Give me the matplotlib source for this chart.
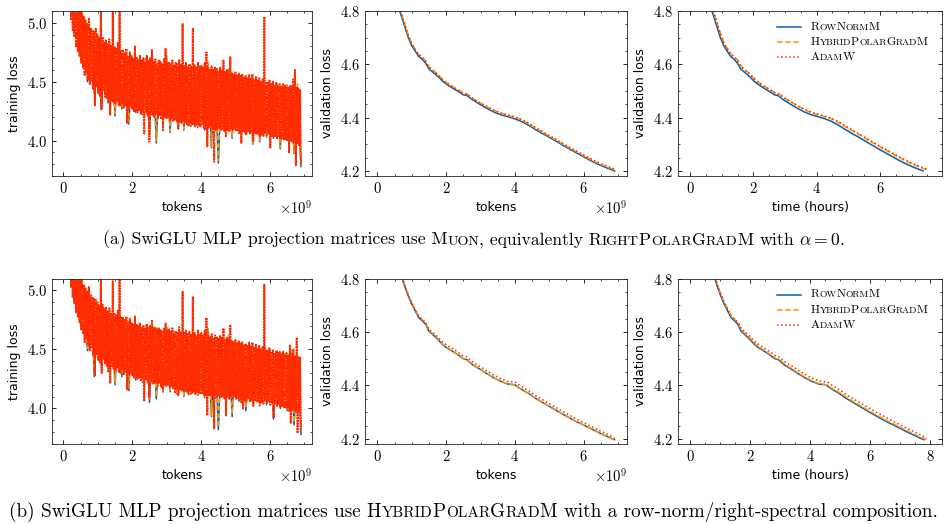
import re
import numpy as np
import matplotlib
matplotlib.use("Agg")
import matplotlib.pyplot as plt
from matplotlib.lines import Line2D
from matplotlib.offsetbox import TextArea, HPacker, VPacker, DrawingArea, AnchoredOffsetbox

# ---- data ----
names = ["R[ow]N[orm]M", "H[ybrid]P[olar]G[rad]M", "A[dam]W"]
colors = ["#0C5DA5", "#FF9500", "#FF2C00"]
styles = ["-", "--", ":"]

tokens_end = 6.9e9

# training loss (row a), alternating high / low readings of the noisy band
train_a_row = [7.6, 6.1, 5.7, 4.92, 5.25, 4.70, 5.0, 4.50, 4.93, 4.40,
               4.85, 4.26, 4.82, 4.32, 4.80, 4.21, 4.76, 4.27, 4.73, 4.14,
               4.70, 4.24, 4.68, 4.22, 4.70, 4.05, 4.68, 3.98, 4.66, 4.18,
               4.70, 4.07, 4.63, 4.16, 4.64, 4.09, 4.62, 4.12, 4.62, 4.11,
               4.62, 4.09, 4.66, 3.94, 4.60, 3.81, 4.58, 4.08, 4.60, 4.02,
               4.56, 4.06, 4.54, 4.05, 4.56, 3.97, 4.53, 3.99, 4.50, 4.03,
               4.49, 4.02, 4.48, 3.93, 4.46, 4.00, 4.45, 3.89, 4.44, 3.78]
train_a_hyb = [7.4, 5.9, 5.6, 4.94, 5.2, 4.72, 5.02, 4.52, 4.95, 4.42,
               4.87, 4.30, 4.84, 4.34, 4.80, 4.23, 4.77, 4.29, 4.75, 4.16,
               4.70, 4.26, 4.69, 4.23, 4.71, 4.06, 4.70, 4.00, 4.67, 4.19,
               4.72, 4.08, 4.64, 4.17, 4.65, 4.10, 4.63, 4.13, 4.64, 4.12,
               4.62, 4.10, 4.68, 3.95, 4.61, 3.83, 4.59, 4.09, 4.62, 4.03,
               4.57, 4.07, 4.55, 4.06, 4.57, 3.98, 4.54, 4.00, 4.51, 4.04,
               4.50, 4.03, 4.49, 3.94, 4.47, 4.01, 4.46, 3.90, 4.48, 3.80]
train_a_adam = [9.5, 7.0, 7.2, 6.3, 6.4, 5.8, 5.9, 5.4, 5.5, 5.02, 5.35, 4.93, 5.3, 4.88, 5.25, 4.80, 5.22, 4.76, 5.18, 4.72,
                5.12, 4.66, 5.08, 4.62, 5.05, 4.55, 5.02, 4.58, 4.99, 4.52, 5.04, 4.48, 4.96, 4.50, 4.94, 4.44, 4.92, 4.30, 4.95, 4.45,
                4.90, 4.40, 4.87, 4.38, 5.12, 4.27, 4.88, 4.42, 4.84, 4.37, 4.85, 4.36, 4.82, 4.33, 4.86, 4.22, 4.80, 4.34, 5.09, 4.32,
                4.80, 4.31, 4.78, 4.34, 4.83, 4.30, 5.12, 4.29, 4.76, 4.32, 4.77, 4.28, 4.74, 4.30, 4.78, 4.15, 4.72, 4.27, 4.75, 4.29,
                4.72, 4.27, 4.70, 4.25, 4.80, 4.26, 4.71, 4.24, 4.69, 4.25, 4.72, 4.22, 4.68, 4.24, 4.70, 4.06, 4.67, 4.23, 4.72, 4.21,
                4.68, 3.99, 4.70, 4.22, 4.77, 4.21, 4.67, 4.20, 4.69, 4.22, 4.66, 4.19, 4.68, 4.21, 4.67, 4.18, 4.65, 4.08, 4.69, 4.20,
                4.78, 4.19, 4.66, 4.20, 4.67, 4.17, 4.65, 4.19, 4.68, 4.16, 4.64, 4.18, 4.66, 4.17, 4.65, 4.10, 4.69, 4.16, 4.64, 4.15,
                4.99, 4.16, 4.64, 4.15, 4.66, 4.14, 4.63, 4.12, 4.65, 4.15, 4.63, 4.13, 4.95, 4.14, 4.64, 4.12, 4.62, 4.14, 4.66, 4.13,
                4.63, 4.12, 4.64, 4.13, 4.62, 4.11, 4.66, 4.10, 4.75, 3.95, 4.62, 4.11, 4.61, 4.12, 4.63, 4.10, 4.60, 3.82, 4.62, 4.09,
                4.61, 4.10, 4.59, 4.11, 4.62, 4.09, 4.60, 4.10, 4.68, 4.08, 4.58, 4.03, 4.60, 4.09, 4.59, 4.08, 4.71, 4.10, 4.57, 4.09,
                4.56, 4.10, 4.58, 4.08, 4.55, 4.09, 4.57, 4.07, 4.55, 3.98, 4.56, 4.08, 4.54, 4.07, 4.55, 4.06, 4.53, 4.08, 4.56, 4.06,
                4.53, 4.07, 4.56, 4.00, 4.52, 4.06, 4.54, 4.05, 4.51, 4.06, 4.53, 4.04, 4.50, 4.05, 4.52, 4.04, 5.05, 4.06, 4.50, 4.05,
                4.49, 4.06, 4.51, 3.94, 4.48, 4.04, 4.50, 4.03, 4.47, 4.04, 4.49, 4.02, 4.47, 4.03, 4.48, 4.01, 4.46, 4.02, 4.48, 4.01,
                4.46, 4.01, 4.47, 4.00, 4.45, 3.90, 4.47, 4.00, 4.46, 3.99, 4.52, 3.98, 4.60, 3.79, 4.45, 3.98, 4.44, 3.96, 4.43, 3.80]

# training loss (row b)
train_b_row = [7.6, 6.1, 5.7, 4.93, 5.25, 4.71, 5.0, 4.49, 4.94, 4.27,
               4.86, 4.36, 4.83, 4.31, 4.80, 4.20, 4.76, 4.27, 4.73, 4.15,
               4.70, 4.24, 4.69, 4.22, 4.70, 4.05, 4.68, 4.08, 4.66, 4.18,
               4.68, 4.14, 4.64, 4.12, 4.64, 4.10, 4.62, 4.12, 4.62, 4.11,
               4.62, 4.09, 4.66, 3.93, 4.60, 3.82, 4.58, 4.08, 4.60, 3.93,
               4.56, 4.06, 4.54, 3.98, 4.56, 4.04, 4.53, 4.02, 4.50, 4.03,
               4.49, 3.91, 4.48, 4.00, 4.46, 3.98, 4.48, 3.86, 4.44, 3.78]
train_b_hyb = [7.4, 5.9, 5.6, 4.95, 5.2, 4.73, 5.02, 4.51, 4.95, 4.29,
               4.88, 4.38, 4.85, 4.33, 4.81, 4.22, 4.77, 4.29, 4.75, 4.17,
               4.71, 4.26, 4.70, 4.23, 4.71, 4.07, 4.70, 4.10, 4.67, 4.19,
               4.70, 4.15, 4.65, 4.13, 4.65, 4.11, 4.63, 4.13, 4.64, 4.12,
               4.63, 4.10, 4.68, 3.94, 4.61, 3.84, 4.59, 4.09, 4.62, 3.95,
               4.57, 4.07, 4.55, 4.00, 4.57, 4.05, 4.54, 4.03, 4.51, 4.04,
               4.50, 3.93, 4.49, 4.01, 4.47, 3.99, 4.50, 3.88, 4.46, 3.80]
train_b_adam = [9.5, 7.0, 7.2, 6.3, 6.4, 5.8, 5.9, 5.4, 5.5, 5.03, 5.35, 4.94, 5.3, 4.89, 5.25, 4.81, 5.22, 4.77, 5.18, 4.73,
                5.12, 4.67, 5.08, 4.63, 5.05, 4.56, 5.02, 4.59, 4.99, 4.53, 5.03, 4.49, 4.96, 4.51, 4.94, 4.45, 4.93, 4.28, 4.92, 4.46,
                4.90, 4.41, 4.88, 4.39, 5.12, 4.30, 4.88, 4.42, 4.85, 4.38, 4.86, 4.36, 4.83, 4.34, 4.85, 4.21, 4.81, 4.35, 5.08, 4.33,
                4.80, 4.32, 4.79, 4.34, 4.83, 4.31, 5.12, 4.30, 4.77, 4.33, 4.77, 4.29, 4.75, 4.31, 4.78, 4.16, 4.73, 4.28, 4.76, 4.29,
                4.73, 4.28, 4.71, 4.26, 4.78, 4.27, 4.71, 4.25, 4.70, 4.26, 4.72, 4.23, 4.69, 4.25, 4.70, 4.06, 4.68, 4.24, 4.71, 4.22,
                4.69, 4.09, 4.70, 4.22, 4.75, 4.21, 4.68, 4.21, 4.69, 4.22, 4.67, 4.19, 4.68, 4.21, 4.67, 4.18, 4.66, 4.14, 4.68, 4.20,
                4.72, 4.19, 4.66, 4.20, 4.67, 4.18, 4.65, 4.19, 4.68, 4.17, 4.64, 4.13, 4.66, 4.17, 4.65, 4.11, 4.69, 4.16, 4.64, 4.15,
                4.99, 4.16, 4.64, 4.15, 4.66, 4.14, 4.63, 4.12, 4.65, 4.15, 4.63, 4.13, 4.95, 4.14, 4.64, 4.12, 4.62, 4.14, 4.66, 4.13,
                4.63, 4.12, 4.64, 4.13, 4.62, 4.11, 4.66, 4.10, 4.77, 3.94, 4.62, 4.11, 4.61, 4.12, 4.63, 4.10, 4.60, 3.83, 4.62, 4.09,
                4.61, 4.10, 4.59, 4.11, 4.62, 4.09, 4.60, 4.10, 4.68, 4.08, 4.58, 3.94, 4.60, 4.09, 4.59, 4.08, 4.71, 4.10, 4.57, 4.09,
                4.56, 4.10, 4.58, 4.08, 4.55, 4.09, 4.57, 4.07, 4.55, 4.05, 4.56, 3.99, 4.54, 4.07, 4.55, 4.06, 4.53, 4.08, 4.56, 4.06,
                4.53, 4.07, 4.56, 4.02, 4.52, 4.06, 4.54, 4.05, 4.51, 4.06, 4.53, 4.04, 4.50, 4.05, 4.52, 4.04, 5.05, 4.06, 4.50, 4.05,
                4.49, 4.06, 4.51, 4.03, 4.48, 4.04, 4.50, 3.92, 4.47, 4.04, 4.49, 4.02, 4.47, 4.03, 4.48, 4.01, 4.46, 4.02, 4.48, 4.01,
                4.46, 4.01, 4.47, 4.00, 4.45, 3.98, 4.54, 3.87, 4.46, 3.99, 4.50, 3.98, 4.44, 3.97, 4.60, 3.79, 4.44, 3.96, 4.43, 3.82]

# validation loss, evaluated at these token counts (x 1e9)
val_tokens = [0.0, 0.2, 0.4, 0.55, 0.65, 0.8, 0.9, 1.0, 1.1, 1.2, 1.3, 1.4, 1.5,
              1.6, 1.7, 1.8, 1.9, 2.0, 2.2, 2.4, 2.5, 2.6, 2.7, 2.8, 3.0, 3.2,
              3.4, 3.6, 3.8, 4.0, 4.1, 4.2, 4.4, 4.6, 4.8, 5.0, 5.2, 5.4, 5.6,
              5.8, 6.0, 6.2, 6.4, 6.6, 6.8, 6.9]
val_a_row = [9.0, 5.6, 5.05, 4.87, 4.80, 4.74, 4.70, 4.67, 4.65, 4.63, 4.62, 4.605,
             4.583, 4.572, 4.562, 4.55, 4.537, 4.527, 4.51, 4.495, 4.486, 4.484,
             4.474, 4.465, 4.449, 4.434, 4.421, 4.411, 4.404, 4.396, 4.391, 4.386,
             4.372, 4.356, 4.341, 4.327, 4.312, 4.297, 4.282, 4.268, 4.254, 4.240,
             4.227, 4.216, 4.206, 4.201]
val_a_hyb = [9.0, 5.62, 5.06, 4.88, 4.81, 4.75, 4.71, 4.678, 4.658, 4.638, 4.628,
             4.614, 4.592, 4.58, 4.57, 4.557, 4.544, 4.533, 4.516, 4.501, 4.492,
             4.49, 4.48, 4.471, 4.455, 4.44, 4.427, 4.416, 4.409, 4.401, 4.397,
             4.391, 4.377, 4.361, 4.346, 4.331, 4.316, 4.301, 4.286, 4.272, 4.258,
             4.244, 4.231, 4.22, 4.21, 4.205]
val_a_adam = [9.0, 5.61, 5.06, 4.88, 4.81, 4.75, 4.708, 4.676, 4.656, 4.636, 4.626,
              4.612, 4.59, 4.578, 4.568, 4.555, 4.542, 4.531, 4.515, 4.5, 4.491,
              4.489, 4.479, 4.47, 4.455, 4.441, 4.428, 4.418, 4.411, 4.403, 4.399,
              4.394, 4.38, 4.364, 4.349, 4.334, 4.319, 4.304, 4.289, 4.275, 4.261,
              4.247, 4.234, 4.223, 4.213, 4.208]
val_b_row = [9.0, 5.7, 5.1, 4.90, 4.83, 4.77, 4.735, 4.705, 4.68, 4.655, 4.643,
             4.63, 4.603, 4.592, 4.58, 4.567, 4.553, 4.543, 4.527, 4.51, 4.50,
             4.497, 4.485, 4.475, 4.46, 4.443, 4.428, 4.415, 4.405, 4.403, 4.393,
             4.385, 4.37, 4.352, 4.337, 4.322, 4.307, 4.292, 4.278, 4.264, 4.252,
             4.239, 4.226, 4.214, 4.202, 4.197]
val_b_hyb = [9.0, 5.72, 5.11, 4.905, 4.835, 4.775, 4.739, 4.709, 4.684, 4.659,
             4.647, 4.634, 4.606, 4.595, 4.583, 4.569, 4.555, 4.545, 4.528, 4.511,
             4.501, 4.498, 4.486, 4.476, 4.46, 4.443, 4.428, 4.415, 4.405, 4.402,
             4.392, 4.385, 4.37, 4.352, 4.337, 4.322, 4.307, 4.292, 4.278, 4.264,
             4.252, 4.239, 4.226, 4.214, 4.202, 4.197]
val_b_adam = [9.0, 5.71, 5.11, 4.903, 4.833, 4.773, 4.738, 4.708, 4.684, 4.66,
              4.648, 4.636, 4.61, 4.6, 4.589, 4.576, 4.563, 4.553, 4.537, 4.52,
              4.51, 4.507, 4.495, 4.485, 4.47, 4.453, 4.438, 4.425, 4.415, 4.413,
              4.404, 4.396, 4.38, 4.362, 4.347, 4.332, 4.317, 4.302, 4.288, 4.274,
              4.261, 4.248, 4.235, 4.223, 4.21, 4.204]

# wall clock at the end of each run (hours)
hours_a = [7.36, 7.48, 7.48]
hours_b = [7.80, 7.89, 7.89]

captions = [
    "(a) SwiGLU MLP projection matrices use M[uon], equivalently R[ight]P[olar]G[rad]M with $\\alpha = 0$.",
    "(b) SwiGLU MLP projection matrices use H[ybrid]P[olar]G[rad]M with a row-norm/right-spectral composition.",
]
caption_sizes = [12.7, 13.8]

# ---- style ----
plt.rcParams.update({
    "font.family": "cmr10",
    "mathtext.fontset": "cm",
    "axes.formatter.use_mathtext": True,
    "font.size": 10.5,
    "axes.linewidth": 0.6,
    "axes.edgecolor": "#222222",
    "xtick.direction": "in",
    "ytick.direction": "in",
    "xtick.top": True,
    "ytick.right": True,
    "xtick.minor.visible": True,
    "ytick.minor.visible": True,
    "xtick.major.size": 3,
    "ytick.major.size": 3,
    "xtick.minor.size": 1.5,
    "ytick.minor.size": 1.5,
    "xtick.major.width": 0.6,
    "ytick.major.width": 0.6,
    "xtick.minor.width": 0.5,
    "ytick.minor.width": 0.5,
})
label_font = dict(family="DejaVu Sans", fontsize=9)


def smallcaps_boxes(s, size, ratio=0.8):
    boxes = []
    for piece in re.split(r"(\[[^\]]*\])", s):
        if not piece:
            continue
        if piece.startswith("["):
            boxes.append(TextArea(piece[1:-1].upper(),
                                  textprops=dict(fontsize=size * ratio, family="cmr10")))
        else:
            boxes.append(TextArea(piece, textprops=dict(fontsize=size, family="cmr10")))
    return HPacker(children=boxes, align="baseline", pad=0, sep=0)


fig = plt.figure(figsize=(9.47, 5.24), dpi=100)

lefts = [52 / 947, 365 / 947, 678 / 947]
widths = [260 / 947, 262 / 947, 264 / 947]
bottoms = [1 - 176 / 524, 1 - 443.7 / 524]
height = 165 / 524
caption_y = [1 - 240 / 524, 1 - 512 / 524]
# the training traces are very dense; a tight dot pattern keeps the band filled
train_lw = [1.1, 1.1, 1.4]
train_ls = ["-", (0, (3, 2)), (0, (1, 0.4))]

rows = [
    ([train_a_row, train_a_hyb, train_a_adam], [val_a_row, val_a_hyb, val_a_adam], hours_a, (-0.38, 7.96)),
    ([train_b_row, train_b_hyb, train_b_adam], [val_b_row, val_b_hyb, val_b_adam], hours_b, (-0.41, 8.4)),
]

vt = np.array(val_tokens)
for r, (train, val, hours, tlim) in enumerate(rows):
    ax1 = fig.add_axes([lefts[0], bottoms[r], widths[0], height])
    ax2 = fig.add_axes([lefts[1], bottoms[r], widths[1], height])
    ax3 = fig.add_axes([lefts[2], bottoms[r], widths[2], height])

    for i in range(3):
        y = train[i]
        x = np.linspace(0, tokens_end, len(y))
        ax1.plot(x, y, color=colors[i], ls=train_ls[i], lw=train_lw[i])
        ax2.plot(vt * 1e9, val[i], color=colors[i], ls=styles[i], lw=1.1)
        ax3.plot(vt / vt[-1] * hours[i], val[i], color=colors[i], ls=styles[i], lw=1.1)

    ax1.set_ylim(3.7, 5.1)
    ax1.set_xlim(-0.33e9, 7.22e9)
    ax1.set_yticks([4.0, 4.5, 5.0])
    ax1.yaxis.set_minor_locator(matplotlib.ticker.MultipleLocator(0.1))
    ax1.set_ylabel("training loss", **label_font)
    ax1.set_xlabel("tokens", **label_font)

    ax2.set_ylim(4.182, 4.8)
    ax2.set_xlim(-0.36e9, 7.26e9)
    ax2.set_ylabel("validation loss", **label_font)
    ax2.set_xlabel("tokens", **label_font)

    ax3.set_ylim(4.182, 4.8)
    ax3.set_xlim(*tlim)
    ax3.set_ylabel("validation loss", **label_font)
    ax3.set_xlabel("time (hours)", **label_font)

    for ax in (ax1, ax2, ax3):
        ax.xaxis.set_major_locator(matplotlib.ticker.MultipleLocator(2e9 if ax is not ax3 else 2))
        ax.xaxis.set_minor_locator(matplotlib.ticker.MultipleLocator(0.5e9 if ax is not ax3 else 0.5))
    for ax in (ax2, ax3):
        ax.yaxis.set_major_locator(matplotlib.ticker.MultipleLocator(0.2))
        ax.yaxis.set_minor_locator(matplotlib.ticker.MultipleLocator(0.05))

    # legend with small caps labels
    entries = []
    for i in range(3):
        da = DrawingArea(17, 7, 0, 0)
        da.add_artist(Line2D([0, 17], [3.5, 3.5], color=colors[i], ls=styles[i], lw=1.1))
        entries.append(HPacker(children=[da, smallcaps_boxes(names[i], 8.6)],
                               align="center", pad=0, sep=7))
    leg = AnchoredOffsetbox(loc="upper right", child=VPacker(children=entries, align="left", pad=0, sep=4),
                            frameon=False, pad=0, borderpad=0,
                            bbox_to_anchor=(1 - 14 / 264, 1 - 11 / 165),
                            bbox_transform=ax3.transAxes)
    ax3.add_artist(leg)

    cap = AnchoredOffsetbox(loc="center", child=smallcaps_boxes(captions[r], caption_sizes[r]),
                            frameon=False, pad=0, borderpad=0,
                            bbox_to_anchor=(0.5, caption_y[r]),
                            bbox_transform=fig.transFigure)
    fig.add_artist(cap)

fig.savefig("out.png", dpi=100)
